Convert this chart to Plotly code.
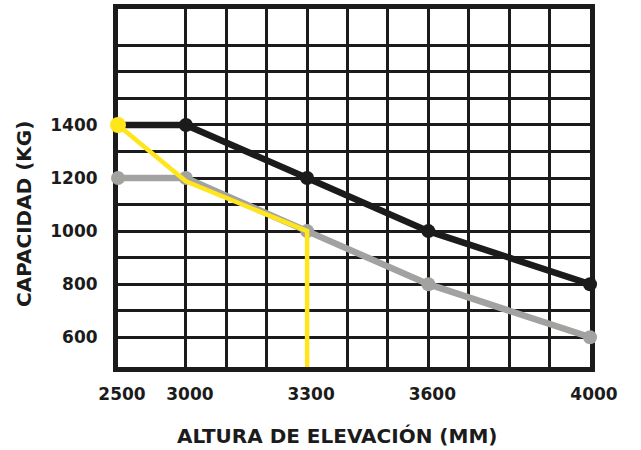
import plotly.graph_objects as go

# ---- data ----
HEIGHTS_MM = [2500, 3000, 3300, 3600, 4000]
CAP_BLACK = [1400, 1400, 1200, 1000, 800]
CAP_GRAY = [1200, 1200, 1000, 800, 600]
YELLOW_HEIGHTS_MM = [2500, 3000, 3300, 3300]
YELLOW_CAP = [1400, 1188, 1000, 488]

X_TICK_VALUES = [2500, 3000, 3300, 3600, 4000]
X_TICK_LABELS = ["2500", "3000", "3300", "3600", "4000"]
X_GRID_MM = list(range(3000, 4001, 100))
Y_TICK_VALUES = [600, 800, 1000, 1200, 1400]
Y_GRID = list(range(600, 1701, 100))

X_TITLE = "ALTURA DE ELEVACIÓN (MM)"
Y_TITLE = "CAPACIDAD (KG)"

# ---- broken x scale: section below 3000 mm is compressed ----
BREAK = 3000
COMPRESS = 0.336


def xs(v):
    return v if v >= BREAK else BREAK - (BREAK - v) * COMPRESS


BLACK = "#1b1b1b"
GRAY = "#a2a2a1"
YELLOW = "#ffe51c"
FONT = "DejaVu Sans"

fig = go.Figure()

fig.add_trace(go.Scatter(
    x=[xs(v) for v in HEIGHTS_MM], y=CAP_BLACK, mode="lines+markers",
    line=dict(color=BLACK, width=6.5), marker=dict(color=BLACK, size=14),
    cliponaxis=False, showlegend=False, name="A"))

fig.add_trace(go.Scatter(
    x=[xs(v) for v in HEIGHTS_MM], y=CAP_GRAY, mode="lines+markers",
    line=dict(color=GRAY, width=6.5), marker=dict(color=GRAY, size=14),
    cliponaxis=False, showlegend=False, name="C"))

fig.add_trace(go.Scatter(
    x=[xs(v) for v in YELLOW_HEIGHTS_MM], y=YELLOW_CAP, mode="lines",
    line=dict(color=YELLOW, width=4.5),
    cliponaxis=False, showlegend=False, name="B"))

fig.add_trace(go.Scatter(
    x=[xs(YELLOW_HEIGHTS_MM[0])], y=[YELLOW_CAP[0]], mode="markers",
    marker=dict(color=YELLOW, size=16, opacity=1, line=dict(width=0)),
    cliponaxis=False, showlegend=False, name="B start"))

x_grid_pos = sorted(set([xs(v) for v in X_GRID_MM] + [xs(v) for v in X_TICK_VALUES]))
x_text = []
for p in x_grid_pos:
    lab = ""
    for v, t in zip(X_TICK_VALUES, X_TICK_LABELS):
        if abs(xs(v) - p) < 1e-6:
            lab = t
    x_text.append(lab)

y_text = [str(v) if v in Y_TICK_VALUES else "" for v in Y_GRID]

fig.update_layout(
    width=641, height=450,
    margin=dict(l=118, r=51, t=9, b=83),
    paper_bgcolor="white", plot_bgcolor="white",
    font=dict(family=FONT, color=BLACK, size=17, weight="bold"),
    xaxis=dict(
        range=[xs(2500), 4000], tickmode="array", tickvals=x_grid_pos, ticktext=x_text,
        showgrid=True, gridcolor=BLACK, gridwidth=3, zeroline=False,
        showline=True, linecolor=BLACK, linewidth=5, mirror=True, layer="below traces",
        ticks="", ticklabelstandoff=8, ticklabelshift=4, automargin=False,
        tickfont=dict(family=FONT, size=17, weight="bold", color=BLACK),
    ),
    yaxis=dict(
        range=[488, 1837], tickmode="array", tickvals=Y_GRID, ticktext=y_text,
        showgrid=True, gridcolor=BLACK, gridwidth=3, zeroline=False,
        showline=True, linecolor=BLACK, linewidth=5, mirror=True, layer="below traces",
        ticks="", ticklabelstandoff=12, automargin=False,
        tickfont=dict(family=FONT, size=17, weight="bold", color=BLACK),
    ),
    annotations=[
        dict(text=X_TITLE, xref="paper", yref="paper", x=(337 - 118) / 472, y=-(436 - 367) / 358,
             xanchor="center", yanchor="middle", showarrow=False,
             font=dict(family=FONT, size=20, weight="bold", color=BLACK)),
        dict(text=Y_TITLE, xref="paper", yref="paper", x=-(118 - 24) / 472, y=(367 - 214) / 358,
             xanchor="center", yanchor="middle", showarrow=False, textangle=-90,
             font=dict(family=FONT, size=20, weight="bold", color=BLACK)),
    ],
)

fig.write_html("out.html", config={"displayModeBar": False},
               post_script="document.body.style.margin='0px';")
